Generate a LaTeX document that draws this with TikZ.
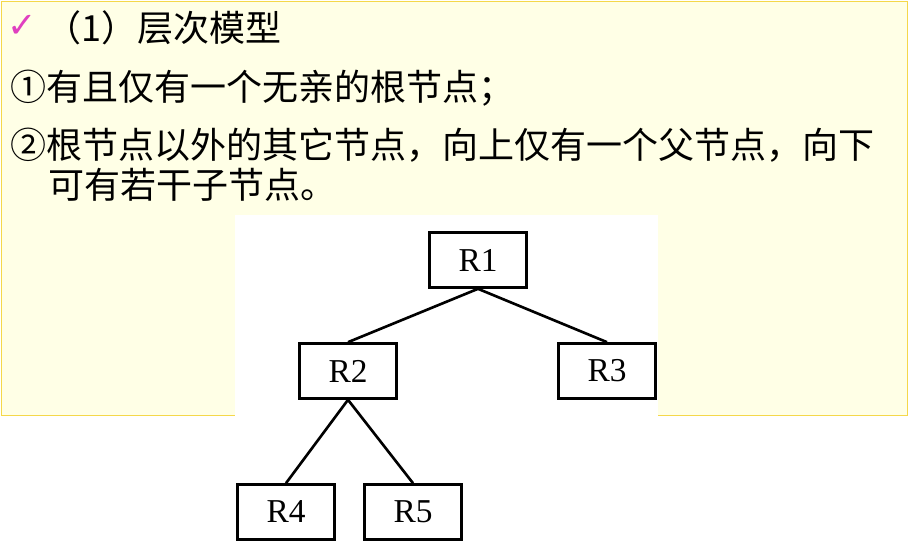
\documentclass[tikz,border=0pt]{standalone}
\usepackage{fontspec}
\setmainfont{Liberation Serif}
\newfontfamily\cjk{Noto Sans CJK SC}
\newfontfamily\symb{DejaVu Sans}
\definecolor{paleyellow}{HTML}{FFFFE6}
\definecolor{boxline}{HTML}{F5D84A}
\definecolor{tickpink}{HTML}{E040C0}
\begin{document}
\begin{tikzpicture}[x=0.02cm,y=-0.02cm,
  treebox/.style={draw, line width=1.5pt, minimum width=1.94cm, minimum height=1.1cm,
    inner sep=0pt, font=\fontsize{19}{19}\selectfont},
  txt/.style={anchor=west, inner sep=0pt, font=\cjk\fontsize{20.5}{20.5}\selectfont}
]
\useasboundingbox (0,0) rectangle (909,543);
\draw[boxline, fill=paleyellow] (1,1) rectangle (907,415);
\fill[white] (235,215) rectangle (658,543);

\node[text=tickpink, font=\symb\bfseries\fontsize{20}{20}\selectfont] (tick) at (22,26) {✓};
\node[txt] (title) at (45,28) {（1）层次模型};
\node[txt] (rule1) at (10,88) {①有且仅有一个无亲的根节点；};
\node[txt] (rule2) at (10,145) {②根节点以外的其它节点，向上仅有一个父节点，向下};
\node[txt] (rule2b) at (48,185) {可有若干子节点。};

\node[treebox] (r1) at (478,260) {R1};
\node[treebox] (r2) at (348,371) {R2};
\node[treebox] (r3) at (607,371) {R3};
\node[treebox] (r4) at (286,512) {R4};
\node[treebox] (r5) at (413,512) {R5};

\draw[line width=1.5pt] (r1.south) -- (r2.north);
\draw[line width=1.5pt] (r1.south) -- (r3.north);
\draw[line width=1.5pt] (r2.south) -- (r4.north);
\draw[line width=1.5pt] (r2.south) -- (r5.north);
\end{tikzpicture}
\end{document}
